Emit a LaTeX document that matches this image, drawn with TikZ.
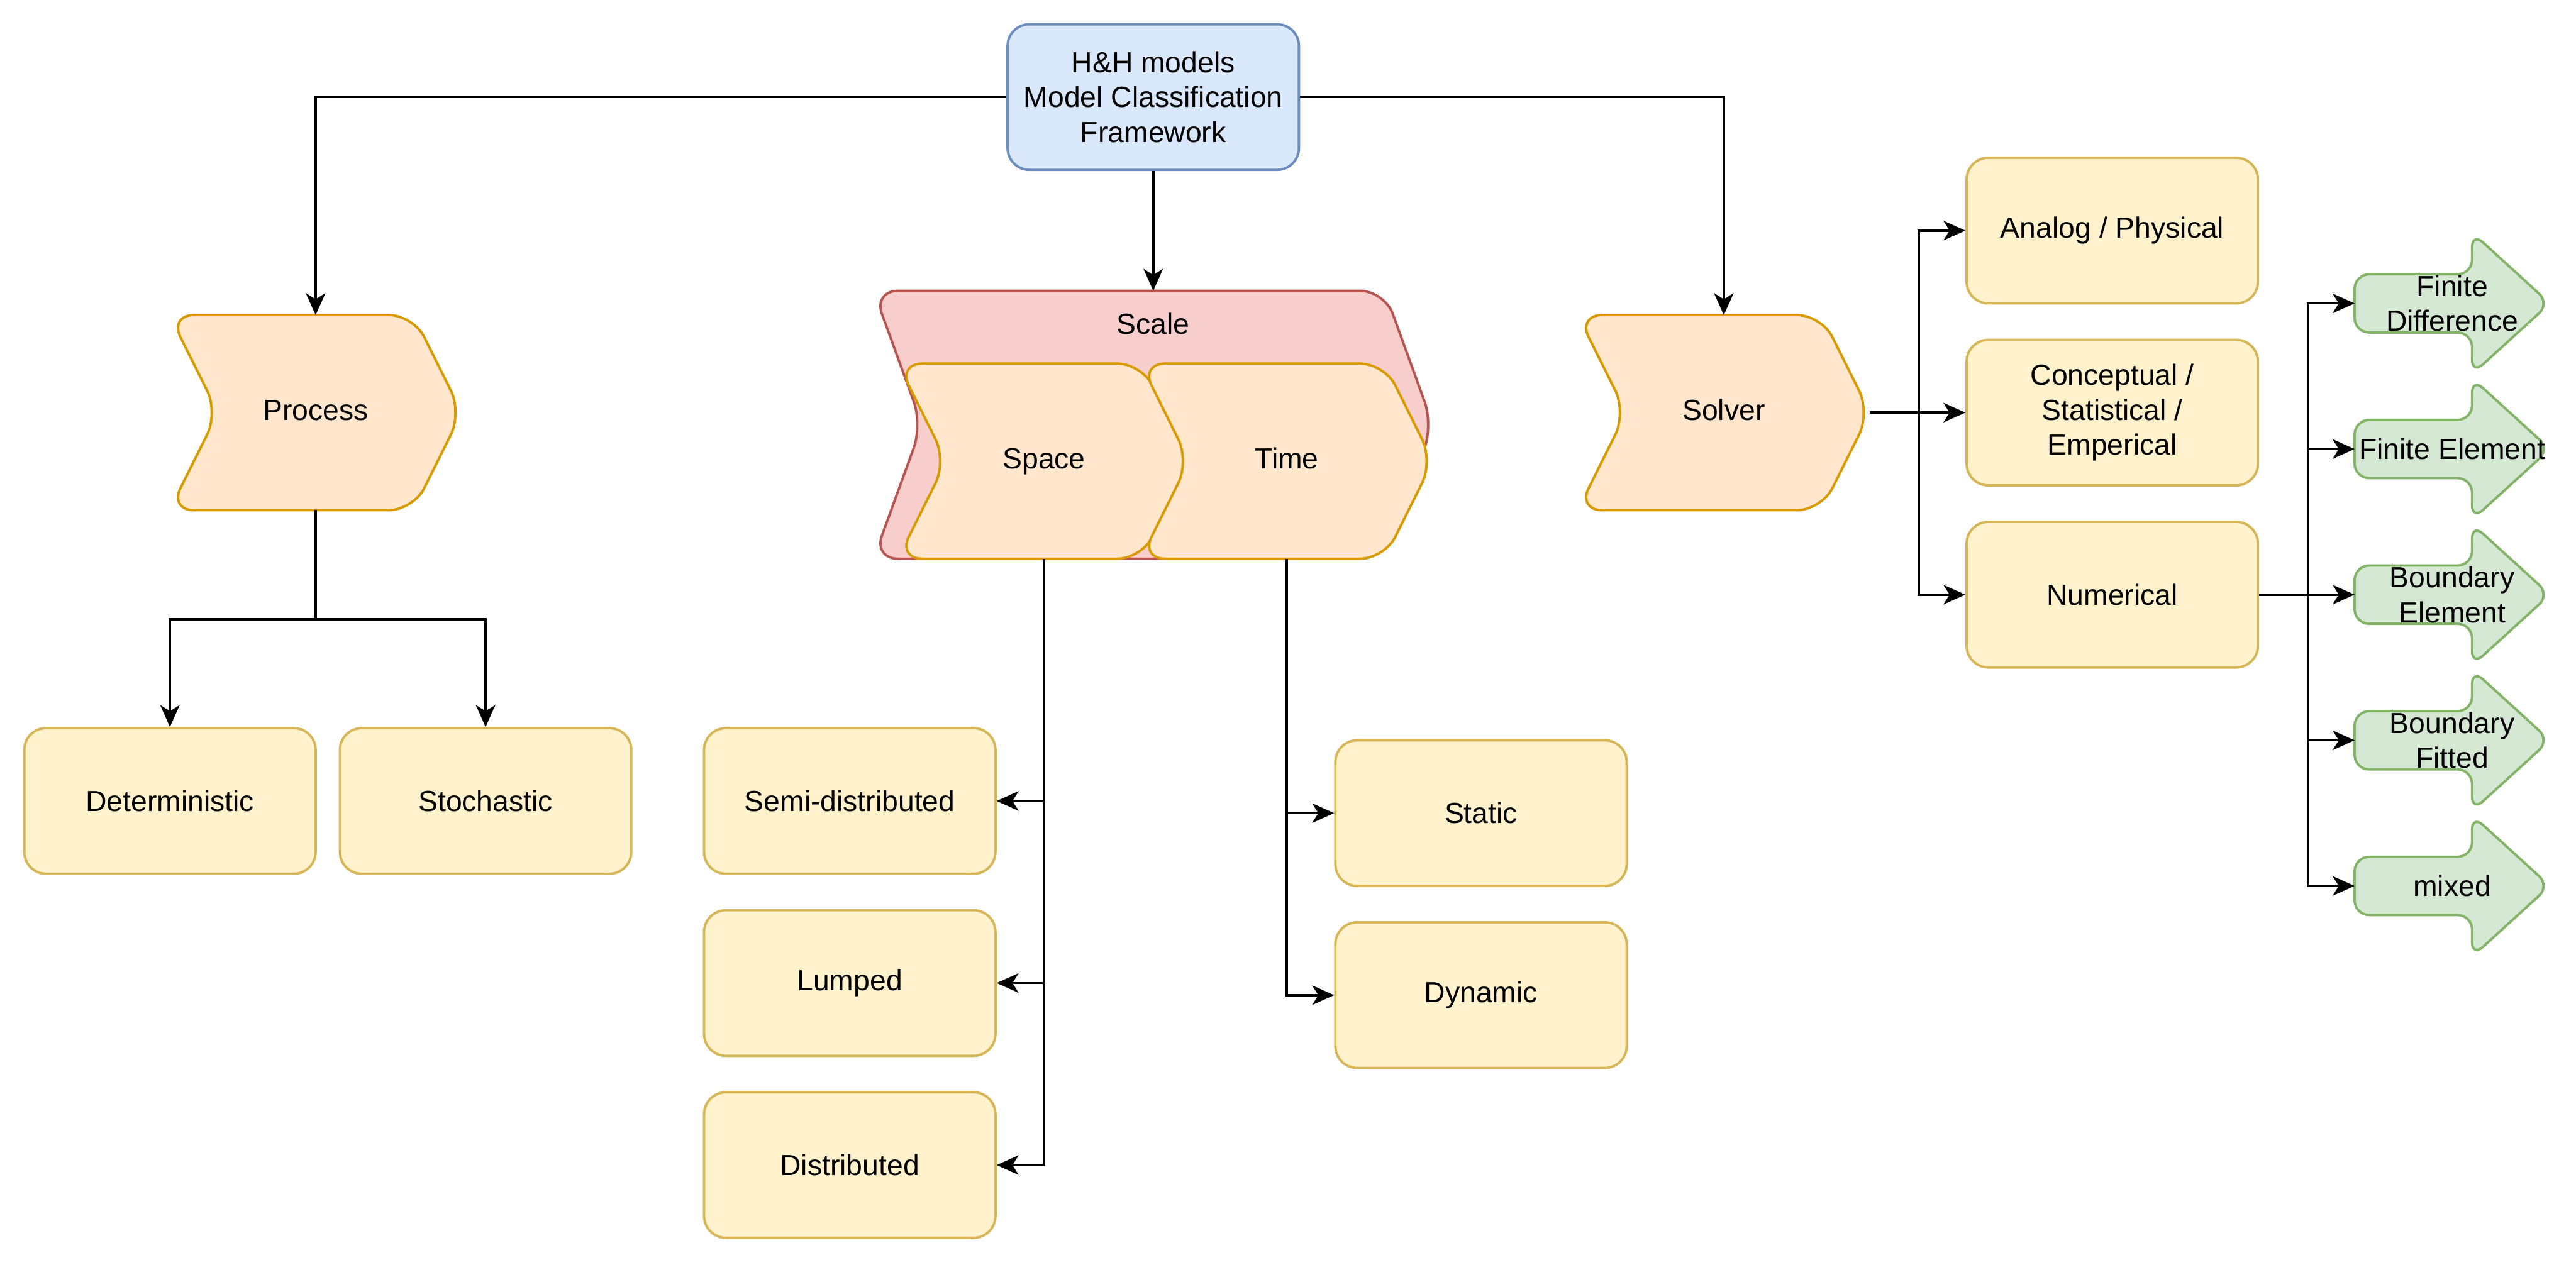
\documentclass[tikz,border=0pt]{standalone}
\usepackage{fontspec}
\setmainfont{Liberation Sans}
\usetikzlibrary{arrows.meta,backgrounds}
\definecolor{bluefill}{HTML}{DAE8FC}
\definecolor{bluedraw}{HTML}{6C8EBF}
\definecolor{orangefill}{HTML}{FFE6CC}
\definecolor{orangedraw}{HTML}{D79B00}
\definecolor{yellowfill}{HTML}{FFF2CC}
\definecolor{yellowdraw}{HTML}{D6B656}
\definecolor{redfill}{HTML}{F8CECC}
\definecolor{reddraw}{HTML}{B85450}
\definecolor{greenfill}{HTML}{D5E8D4}
\definecolor{greendraw}{HTML}{82B366}
\tikzset{
  every node/.style={font=\fontsize{12}{14.4}\selectfont, align=center, inner sep=0pt},
  box/.style={draw=yellowdraw, fill=yellowfill, line width=1pt, rounded corners=9pt,
    minimum width=120pt, minimum height=60pt},
  topbox/.style={box, draw=bluedraw, fill=bluefill},
  stepbox/.style={minimum width=120pt, minimum height=80pt, text height=8.6pt, text depth=2.4pt},
  stepfill/.style={draw=orangedraw, fill=orangefill, line width=1pt, rounded corners=10pt},
  scalefill/.style={stepfill, draw=reddraw, fill=redfill},
  arrowbox/.style={minimum width=80pt, minimum height=58pt},
  arrowfill/.style={draw=greendraw, fill=greenfill, line width=1pt, rounded corners=6pt},
  arr/.style={-{Stealth[length=9pt,width=8pt,inset=2.5pt]}, line width=1pt}
}
\newcommand\steppath[1]{(#1.north west) -- ([xshift=-20pt]#1.north east) -- (#1.east)
  -- ([xshift=-20pt]#1.south east) -- (#1.south west) -- ([xshift=20pt]#1.west) -- cycle}
\newcommand\arrowpath[1]{([yshift=12pt]#1.west) -- ([xshift=-32pt,yshift=12pt]#1.east)
  -- ([xshift=-32pt]#1.north east) -- (#1.east) -- ([xshift=-32pt]#1.south east)
  -- ([xshift=-32pt,yshift=-12pt]#1.east) -- ([yshift=-12pt]#1.west) -- cycle}
\begin{document}
\begin{tikzpicture}[x=1pt,y=-1pt]
  \useasboundingbox (0,0) rectangle (1061,521);
  \node[topbox] (HH) at (475,40) {H\&H models\\Model Classification\\Framework};
  \node[stepbox] (PR) at (130,170) {Process};
  \node[box] (DET) at (70,330) {Deterministic};
  \node[box] (STO) at (200,330) {Stochastic};
  \node[stepbox, minimum width=230pt, minimum height=110pt,
    label={[anchor=north,yshift=-9pt]north:Scale}] (SC) at (475,175) {};
  \node[stepbox] (SP) at (430,190) {Space};
  \node[stepbox] (TI) at (530,190) {Time};
  \node[box] (SEMI) at (350,330) {Semi-distributed};
  \node[box] (LUM) at (350,405) {Lumped};
  \node[box] (DIS) at (350,480) {Distributed};
  \node[box] (STA) at (610,335) {Static};
  \node[box] (DYN) at (610,410) {Dynamic};
  \node[stepbox] (SO) at (710,170) {Solver};
  \node[box] (ANA) at (870,95) {Analog / Physical};
  \node[box] (CON) at (870,170) {Conceptual /\\Statistical /\\Emperical};
  \node[box] (NUM) at (870,245) {Numerical};
  \node[arrowbox] (FD) at (1010,125) {Finite\\Difference};
  \node[arrowbox] (FE) at (1010,185) {Finite Element};
  \node[arrowbox] (BE) at (1010,245) {Boundary\\Element};
  \node[arrowbox] (BF) at (1010,305) {Boundary\\Fitted};
  \node[arrowbox] (MIX) at (1010,365) {mixed};
  \begin{scope}[on background layer]
    \draw[stepfill] \steppath{PR};
    \draw[stepfill] \steppath{SO};
    \draw[scalefill] \steppath{SC};
    \draw[stepfill] \steppath{SP};
    \draw[stepfill] \steppath{TI};
    \foreach \n in {FD,FE,BE,BF,MIX}
      \draw[arrowfill] \arrowpath{\n};
  \end{scope}
  \draw[arr] (HH.west) -| (PR.north);
  \draw[arr] (HH.east) -| (SO.north);
  \draw[arr] (HH.south) -- (SC.north);
  \draw[arr] (PR.south) -- ++(0,45) -| (DET.north);
  \draw[arr] (PR.south) -- ++(0,45) -| (STO.north);
  \foreach \n in {SEMI,LUM,DIS}
    \draw[arr] (SP.south) |- (\n.east);
  \foreach \n in {STA,DYN}
    \draw[arr] (TI.south) |- (\n.west);
  \draw[arr] (SO.east) -- ++(20,0) |- (ANA.west);
  \draw[arr] (SO.east) -- (CON.west);
  \draw[arr] (SO.east) -- ++(20,0) |- (NUM.west);
  \foreach \n in {FD,FE,BE,BF,MIX}
    \draw[arr] (NUM.east) -- ++(20,0) |- (\n.west);
\end{tikzpicture}
\end{document}
